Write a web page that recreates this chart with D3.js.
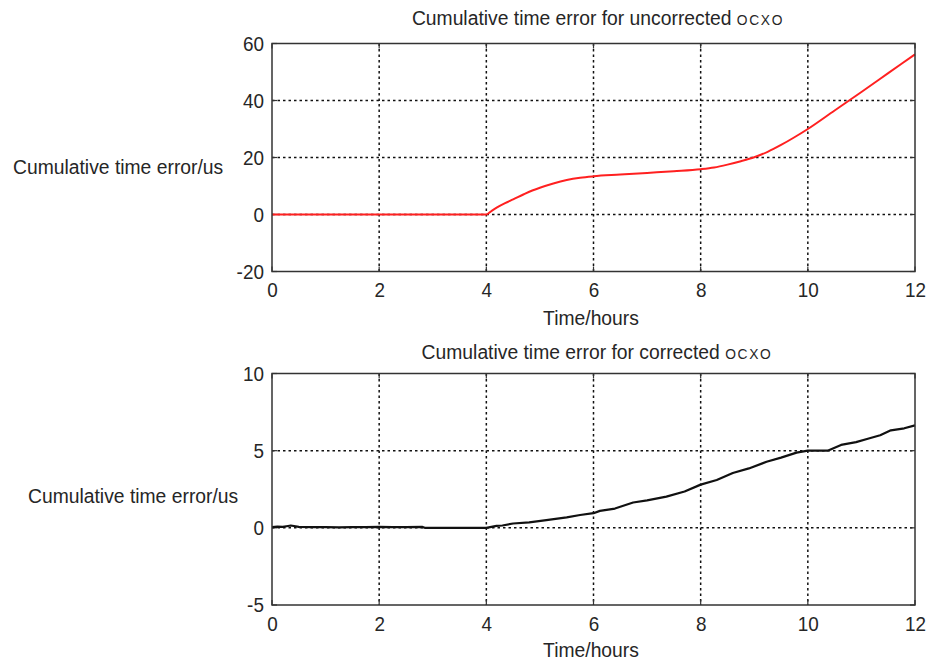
<!DOCTYPE html>
<html>
<head>
<meta charset="utf-8">
<script src="https://cdn.jsdelivr.net/npm/d3@7"></script>
<style>
  html, body { margin: 0; padding: 0; background: #fff; }
  svg { display: block; }
  text { font-family: "Liberation Sans", Arial, sans-serif; fill: #262626; }
</style>
</head>
<body>
<svg id="chart" width="928" height="662"></svg>
<script>
// Uncorrected oscillator: cumulative time error (us) against time (hours)
const uncorrectedHours = [0, 4, 4.1, 4.2, 4.35, 4.5, 4.7, 4.87, 5.0, 5.25, 5.5, 5.75, 6, 6.5, 7, 7.5, 8, 8.25, 8.5, 8.75, 9, 9.25, 9.5, 9.75, 10, 10.5, 11, 11.5, 12];
const uncorrectedError = [0, 0, 1.3, 2.5, 4.0, 5.3, 7.1, 8.5, 9.4, 10.9, 12.1, 12.9, 13.4, 14.0, 14.6, 15.2, 15.9, 16.5, 17.5, 18.7, 20.1, 22.0, 24.4, 27.1, 30.0, 36.5, 43.0, 49.6, 56.2];

// Corrected oscillator: cumulative time error (us) against time (hours)
const correctedHours = [0, 0.1, 0.2, 0.3, 0.35, 0.5, 0.75, 1, 1.25, 1.5, 1.75, 2, 2.25, 2.5, 2.8, 2.85, 4, 4.19, 4.3, 4.5, 4.8, 5.12, 5.5, 5.75, 6, 6.12, 6.4, 6.74, 7, 7.36, 7.7, 8, 8.3, 8.6, 8.9, 9.23, 9.5, 9.79, 10, 10.37, 10.62, 10.9, 11.12, 11.35, 11.55, 11.8, 12];
const correctedError = [0.05, 0.08, 0.06, 0.12, 0.15, 0.06, 0.04, 0.05, 0.03, 0.05, 0.04, 0.06, 0.04, 0.05, 0.06, 0, 0, 0.13, 0.15, 0.28, 0.35, 0.5, 0.68, 0.83, 0.95, 1.1, 1.25, 1.64, 1.78, 2.02, 2.35, 2.8, 3.1, 3.55, 3.85, 4.28, 4.55, 4.87, 5.0, 5.0, 5.37, 5.55, 5.77, 6.0, 6.32, 6.45, 6.64];

// Axis ticks
const hourTicks = [0, 2, 4, 6, 8, 10, 12];
const topErrorTicks = [-20, 0, 20, 40, 60];
const bottomErrorTicks = [-5, 0, 5, 10];

const titles = ["Cumulative time error for uncorrected ", "Cumulative time error for corrected "];
const titleSuffix = "OCXO";
const xLabel = "Time/hours";
const yLabel = "Cumulative time error/us";

const svg = d3.select("#chart");
const squeeze = 0.92;   // narrow letterforms for labels
const fmt = d => String(d);   // plain hyphen for negatives

function label(g, x, y, txt, anchor, size) {
  return g.append("text")
    .attr("transform", `translate(${x},${y}) scale(${squeeze},1)`)
    .attr("text-anchor", anchor)
    .attr("font-size", size)
    .text(txt);
}

function panel(cfg) {
  const x = d3.scaleLinear().domain([0, 12]).range([cfg.left, cfg.right]);
  const y = d3.scaleLinear().domain(cfg.yDomain).range([cfg.bottom, cfg.top]);
  const g = svg.append("g");
  const w = cfg.right - cfg.left, h = cfg.bottom - cfg.top;

  // dotted grid
  const grid = g.append("g").attr("stroke", "#111").attr("stroke-width", 1.5).attr("stroke-dasharray", "2.5,3");
  grid.selectAll("line.v").data(hourTicks.slice(1, -1)).join("line")
    .attr("x1", d => x(d)).attr("x2", d => x(d)).attr("y1", cfg.top).attr("y2", cfg.bottom);
  grid.selectAll("line.h").data(cfg.yTicks.slice(1, -1)).join("line")
    .attr("x1", cfg.left).attr("x2", cfg.right).attr("y1", d => y(d)).attr("y2", d => y(d));

  // inward tick marks on all four sides
  const tk = g.append("g").attr("stroke", "#333").attr("stroke-width", 1.2);
  hourTicks.forEach(t => {
    tk.append("line").attr("x1", x(t)).attr("x2", x(t)).attr("y1", cfg.bottom).attr("y2", cfg.bottom - 5);
    tk.append("line").attr("x1", x(t)).attr("x2", x(t)).attr("y1", cfg.top).attr("y2", cfg.top + 5);
  });
  cfg.yTicks.forEach(t => {
    tk.append("line").attr("x1", cfg.left).attr("x2", cfg.left + 5).attr("y1", y(t)).attr("y2", y(t));
    tk.append("line").attr("x1", cfg.right).attr("x2", cfg.right - 5).attr("y1", y(t)).attr("y2", y(t));
  });

  // data line
  const line = d3.line().curve(cfg.curve).x(d => x(d[0])).y(d => y(d[1]));
  g.append("path")
    .datum(d3.zip(cfg.hours, cfg.values))
    .attr("fill", "none")
    .attr("stroke", cfg.color)
    .attr("stroke-width", cfg.width)
    .attr("stroke-linejoin", "round")
    .attr("d", line);

  // frame
  g.append("rect").attr("x", cfg.left).attr("y", cfg.top).attr("width", w).attr("height", h)
    .attr("fill", "none").attr("stroke", "#333").attr("stroke-width", 1.5);

  // tick labels via d3 axes
  const xa = g.append("g").attr("transform", `translate(0,${cfg.bottom})`)
    .call(d3.axisBottom(x).tickValues(hourTicks).tickFormat(fmt).tickSize(0).tickPadding(11));
  const ya = g.append("g").attr("transform", `translate(${cfg.left},0)`)
    .call(d3.axisLeft(y).tickValues(cfg.yTicks).tickFormat(fmt).tickSize(0).tickPadding(9));
  [xa, ya].forEach(a => {
    a.select(".domain").remove();
    a.selectAll("text").attr("font-size", 21).attr("font-family", null).attr("fill", "#262626")
      .attr("transform", "scale(0.9,1)");
  });
  xa.selectAll("text").attr("dy", "0.71em");

  // titles and axis labels
  const t = label(g, cfg.titleX, cfg.titleY, cfg.title, "middle", 21);
  t.append("tspan").attr("font-size", 15).attr("letter-spacing", 1.8).text(titleSuffix);

  label(g, cfg.xLabelX, cfg.xLabelY, xLabel, "middle", 21);
  label(g, cfg.yLabelX, cfg.yLabelY, yLabel, "start", 21);
}

panel({
  left: 272, right: 915, top: 43.5, bottom: 271.5,
  yDomain: [-20, 60], yTicks: topErrorTicks,
  hours: uncorrectedHours, values: uncorrectedError, color: "#ff2020", width: 2,
  curve: d3.curveMonotoneX,
  title: titles[0], titleX: 598, titleY: 25,
  xLabelX: 591, xLabelY: 325, yLabelX: 13, yLabelY: 174
});

panel({
  left: 272, right: 915, top: 373.5, bottom: 605,
  yDomain: [-5, 10], yTicks: bottomErrorTicks,
  hours: correctedHours, values: correctedError, color: "#111", width: 2.2,
  curve: d3.curveLinear,
  title: titles[1], titleX: 597, titleY: 359,
  xLabelX: 591, xLabelY: 657, yLabelX: 28, yLabelY: 503
});
</script>
</body>
</html>
